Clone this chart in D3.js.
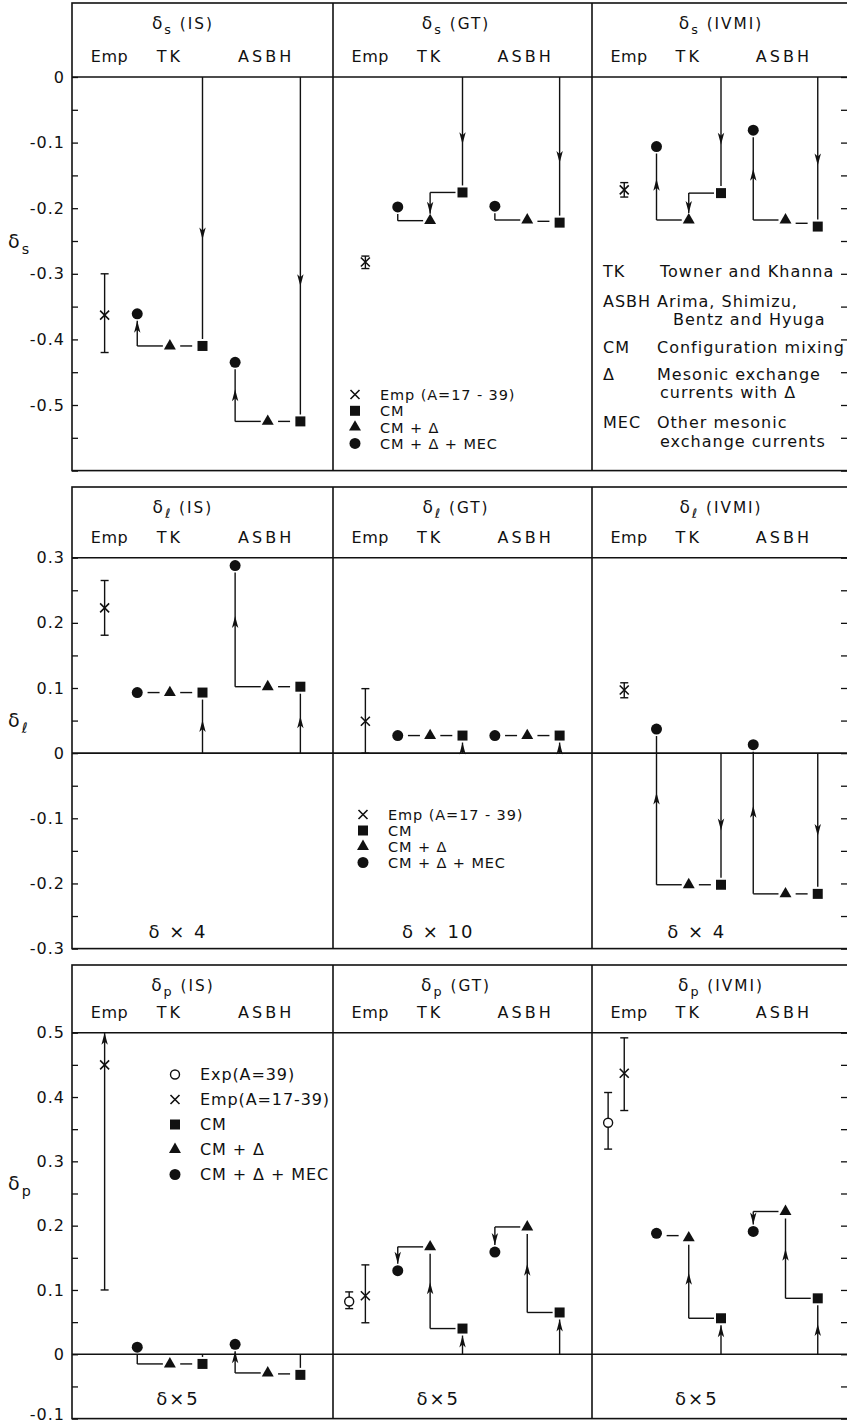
<!DOCTYPE html>
<html>
<head>
<meta charset="utf-8">
<script src="https://cdn.jsdelivr.net/npm/d3@7"></script>
<style>
  body { margin: 0; background: #fff; }
  svg text { font-family: "DejaVu Sans", sans-serif; fill: #111; }
</style>
</head>
<body>
<svg id="chart" width="847" height="1425"></svg>
<script>
// rows: delta_s, delta_l, delta_p ; columns: IS, GT, IVMI
const rowSymbols = ["s", "ℓ", "p"];
const colNames = ["IS", "GT", "IVMI"];
const groupNames = ["Emp", "TK", "ASBH"];
const yDomains = [[-0.6, 0], [-0.3, 0.3], [-0.1, 0.5]];
const yTicks = [
  [0, -0.1, -0.2, -0.3, -0.4, -0.5],
  [0.3, 0.2, 0.1, 0, -0.1, -0.2, -0.3],
  [0.5, 0.4, 0.3, 0.2, 0.1, 0, -0.1]
];
const yTickLabels = [
  ["0", "-0.1", "-0.2", "-0.3", "-0.4", "-0.5"],
  ["0.3", "0.2", "0.1", "0", "-0.1", "-0.2", "-0.3"],
  ["0.5", "0.4", "0.3", "0.2", "0.1", "0", "-0.1"]
];
const scaleNotes = [["", "", ""], ["δ × 4", "δ × 10", "δ × 4"], ["δ×5", "δ×5", "δ×5"]];

// empirical values (x) with error bars, experiment (o)
const empVal = [[-0.363, -0.282, -0.172], [0.223, 0.049, 0.097], [0.45, 0.091, 0.437]];
const empLo = [[-0.42, -0.292, -0.183], [0.181, 0, 0.085], [0.10, 0.049, 0.379]];
const empHi = [[-0.30, -0.273, -0.161], [0.265, 0.099, 0.108], [0.50, 0.139, 0.492]];
const empOpenEnded = [[false, false, false], [false, false, false], [true, false, false]];
const expVal = [[null, null, null], [null, null, null], [null, 0.082, 0.36]];
const expLo = [[null, null, null], [null, null, null], [null, 0.071, 0.319]];
const expHi = [[null, null, null], [null, null, null], [null, 0.097, 0.407]];

// calculations: CM (square), CM+Delta (triangle), CM+Delta+MEC (circle)
const tkCM = [[-0.41, -0.176, -0.177], [0.093, 0.027, -0.202], [-0.015, 0.040, 0.056]];
const tkCMD = [[-0.41, -0.219, -0.218], [0.093, 0.027, -0.202], [-0.015, 0.167, 0.181]];
const tkMEC = [[-0.361, -0.198, -0.106], [0.093, 0.027, 0.037], [0.011, 0.130, 0.188]];
const asbhCM = [[-0.525, -0.222, -0.228], [0.102, 0.027, -0.216], [-0.032, 0.065, 0.087]];
const asbhCMD = [[-0.525, -0.218, -0.218], [0.102, 0.027, -0.216], [-0.029, 0.198, 0.222]];
const asbhMEC = [[-0.435, -0.197, -0.081], [0.288, 0.027, 0.013], [0.0155, 0.159, 0.191]];

const legendKinds4 = ["cross", "square", "triangle", "circle"];
const legendLabels4 = ["Emp (A=17 - 39)", "CM", "CM + Δ", "CM + Δ + MEC"];
const legendKinds5 = ["open", "cross", "square", "triangle", "circle"];
const legendLabels5 = ["Exp(A=39)", "Emp(A=17-39)", "CM", "CM + Δ", "CM + Δ + MEC"];
const keyAbbr = ["TK", "ASBH", "", "CM", "Δ", "", "MEC", ""];
const keyText = ["Towner and Khanna", "Arima, Shimizu,", "Bentz and Hyuga", "Configuration mixing",
  "Mesonic exchange", "currents with Δ", "Other mesonic", "exchange currents"];

// layout
const colX = [72, 333, 592, 850];
const rowTop = [3, 487, 965];
const rowHead = [77, 557.7, 1032.7];
const rowBot = [470.6, 948.6, 1418.6];
const titleSlot = [3.4, 3.8, 4.0];
const yLabelY = [248, 727, 1190];
const keyY = [277, 307, 325, 353, 380, 398, 428, 447];
const keyX = [660, 657, 673, 657, 657, 660, 657, 660];

const ink = "#111";
const svg = d3.select("#chart");

function arrowHead(g, x, yTip, dir) {
  g.append("path")
    .attr("d", `M${x},${yTip} L${x - 3.2},${yTip - dir * 12} L${x},${yTip - dir * 9} L${x + 3.2},${yTip - dir * 12} Z`)
    .attr("fill", ink).attr("stroke", "none");
}

function vLink(g, x, ya, yb, minArrow) {
  const dir = Math.sign(yb - ya);
  const end = yb - dir * 7;
  const len = (end - ya) * dir;
  if (len < 1.5) return;
  g.append("line").attr("x1", x).attr("x2", x).attr("y1", ya).attr("y2", end);
  if (len > 40) arrowHead(g, x, ya + dir * len * 0.62, dir);
  else if (len > minArrow) arrowHead(g, x, end, dir);
}

function step(g, xa, ya, xb, yb) {
  if (Math.abs(yb - ya) < 7) {
    const xm = (xa + xb) / 2, ym = (ya + yb) / 2;
    g.append("line").attr("x1", xm - 6).attr("x2", xm + 6).attr("y1", ym).attr("y2", ym);
    return;
  }
  g.append("line").attr("x1", xa - 7).attr("x2", xb).attr("y1", ya).attr("y2", ya);
  vLink(g, xb, ya, yb, 12);
}

function marker(g, kind, x, y) {
  if (kind === "cross") {
    g.append("path")
      .attr("d", `M${x - 4.5},${y - 4.5}L${x + 4.5},${y + 4.5}M${x - 4.5},${y + 4.5}L${x + 4.5},${y - 4.5}`)
      .attr("stroke", ink).attr("stroke-width", 1.6).attr("fill", "none");
    return;
  }
  if (kind === "open") {
    g.append("circle").attr("cx", x).attr("cy", y).attr("r", 4.5)
      .attr("fill", "#fff").attr("stroke", ink).attr("stroke-width", 1.4);
    return;
  }
  const type = {square: d3.symbolSquare, triangle: d3.symbolTriangle, circle: d3.symbolCircle}[kind];
  const size = {square: 100, triangle: 62, circle: 95}[kind];
  g.append("path").attr("transform", `translate(${x},${y})`)
    .attr("d", d3.symbol(type, size)()).attr("fill", ink);
}

function errorBar(g, x, yLo, yHi, arrowTop) {
  g.append("line").attr("x1", x).attr("x2", x).attr("y1", yLo).attr("y2", yHi)
    .attr("stroke", ink).attr("stroke-width", 1.4);
  g.append("line").attr("x1", x - 4).attr("x2", x + 4).attr("y1", yLo).attr("y2", yLo)
    .attr("stroke", ink).attr("stroke-width", 1.4);
  if (arrowTop) arrowHead(g, x, yHi, -1);
  else g.append("line").attr("x1", x - 4).attr("x2", x + 4).attr("y1", yHi).attr("y2", yHi)
    .attr("stroke", ink).attr("stroke-width", 1.4);
}

function deltaText(g, x, y, sym, rest, size, anchor) {
  const t = g.append("text").attr("x", x).attr("y", y).attr("font-size", size)
    .attr("text-anchor", anchor).attr("letter-spacing", 2);
  t.append("tspan").text("δ");
  t.append("tspan").attr("font-size", size * 0.75).attr("dy", size * 0.3).text(sym);
  if (rest) t.append("tspan").attr("dy", -size * 0.3).attr("font-size", size * 0.9).text(rest);
}

function drawLegend(kinds, labels, mx, y0, dy, fs) {
  const g = svg.append("g");
  kinds.forEach((k, i) => {
    marker(g, k, mx, y0 + i * dy - 5.5);
    g.append("text").attr("x", mx + 25).attr("y", y0 + i * dy)
      .attr("font-size", fs).attr("letter-spacing", 0.9).text(labels[i]);
  });
}

rowSymbols.forEach((sym, r) => {
  const y = d3.scaleLinear().domain(yDomains[r]).range([rowBot[r], rowHead[r]]);
  const minor = d3.range(Math.round(yDomains[r][0] * 20), Math.round(yDomains[r][1] * 20) + 1).map(k => k / 20);
  const labelOf = v => {
    const i = yTicks[r].findIndex(t => Math.abs(t - v) < 1e-6);
    return i < 0 ? "" : yTickLabels[r][i];
  };

  // left axis: ticks point inward
  svg.append("g").attr("transform", `translate(${colX[0]},0)`)
    .call(d3.axisLeft(y).tickValues(minor).tickSize(-6).tickPadding(7).tickFormat(labelOf))
    .call(g => g.select(".domain").remove())
    .call(g => g.selectAll("line").attr("stroke", ink).attr("stroke-width", 1.3))
    .call(g => g.selectAll("text").attr("font-size", 16).attr("letter-spacing", 1)
      .attr("font-family", "DejaVu Sans").attr("fill", ink)
      .attr("dy", d => (r === 2 && d === yDomains[r][0]) ? "0.05em" : "0.32em"));

  // right edge ticks
  svg.append("g").attr("transform", `translate(${colX[3]},0)`)
    .call(d3.axisRight(y).tickValues(minor).tickSize(-9).tickFormat(""))
    .call(g => g.select(".domain").remove())
    .call(g => g.selectAll("line").attr("stroke", ink).attr("stroke-width", 1.3));

  // y label
  deltaText(svg, 8, yLabelY[r], sym, "", 19, "start");

  // frame
  const frame = svg.append("g").attr("fill", "none").attr("stroke", ink).attr("stroke-width", 1.6);
  frame.append("rect").attr("x", colX[0]).attr("y", rowTop[r])
    .attr("width", colX[3] - colX[0]).attr("height", rowBot[r] - rowTop[r]);
  colX.slice(1, 3).forEach(xv => frame.append("line")
    .attr("x1", xv).attr("x2", xv).attr("y1", rowTop[r]).attr("y2", rowBot[r]));
  frame.append("line").attr("x1", colX[0]).attr("x2", colX[3]).attr("y1", rowHead[r]).attr("y2", rowHead[r]);
  if (yDomains[r][0] < 0 && yDomains[r][1] > 0) {
    frame.append("line").attr("x1", colX[0]).attr("x2", colX[3]).attr("y1", y(0)).attr("y2", y(0));
  }

  colNames.forEach((cn, c) => {
    const x = d3.scaleLinear().domain([0, 8]).range([colX[c], colX[c + 1]]);
    const g = svg.append("g");

    // header
    deltaText(g, x(titleSlot[c]), rowTop[r] + 26, sym, " (" + cn + ")", 17, "middle");
    [1.15, 3, 5.95].forEach((s, i) => {
      g.append("text").attr("x", x(s)).attr("y", rowHead[r] - 15)
        .attr("text-anchor", "middle").attr("font-size", 16)
        .attr("letter-spacing", i === 0 ? 0.5 : 3).text(groupNames[i]);
    });
    if (scaleNotes[r][c]) {
      g.append("text").attr("x", x(3.25)).attr("y", rowBot[r] - (r === 1 ? 11 : 14))
        .attr("text-anchor", "middle").attr("font-size", 18).attr("letter-spacing", 2)
        .text(scaleNotes[r][c]);
    }

    // connectors
    const links = g.append("g").attr("stroke", ink).attr("stroke-width", 1.4).attr("fill", "none");
    const groups = [
      {slots: [4, 3, 2], vals: [tkCM[r][c], tkCMD[r][c], tkMEC[r][c]]},
      {slots: [7, 6, 5], vals: [asbhCM[r][c], asbhCMD[r][c], asbhMEC[r][c]]}
    ];
    groups.forEach(gr => {
      const xs = gr.slots.map(x), ys = gr.vals.map(y);
      vLink(links, xs[0], y(0), ys[0], r === 2 && c === 0 ? 20 : 6);
      step(links, xs[0], ys[0], xs[1], ys[1]);
      step(links, xs[1], ys[1], xs[2], ys[2]);
    });

    // empirical / experimental points
    errorBar(g, x(1), y(empLo[r][c]), y(empHi[r][c]), empOpenEnded[r][c]);
    marker(g, "cross", x(1), y(empVal[r][c]));
    if (expVal[r][c] !== null) {
      errorBar(g, x(0.5), y(expLo[r][c]), y(expHi[r][c]), false);
      marker(g, "open", x(0.5), y(expVal[r][c]));
    }

    // calculated markers
    groups.forEach(gr => {
      ["square", "triangle", "circle"].forEach((k, i) => marker(g, k, x(gr.slots[i]), y(gr.vals[i])));
    });
  });
});

// legends
drawLegend(legendKinds4, legendLabels4, 355, 400, 16.3, 14.5);
drawLegend(legendKinds4, legendLabels4, 363, 820, 16, 14.5);
drawLegend(legendKinds5, legendLabels5, 175, 1080, 25, 16);

// abbreviation key
const key = svg.append("g");
keyText.forEach((t, i) => {
  if (keyAbbr[i]) key.append("text").attr("x", 603).attr("y", keyY[i])
    .attr("font-size", 16).attr("letter-spacing", 1).text(keyAbbr[i]);
  key.append("text").attr("x", keyX[i]).attr("y", keyY[i])
    .attr("font-size", 16).attr("letter-spacing", 1).text(t);
});
</script>
</body>
</html>
